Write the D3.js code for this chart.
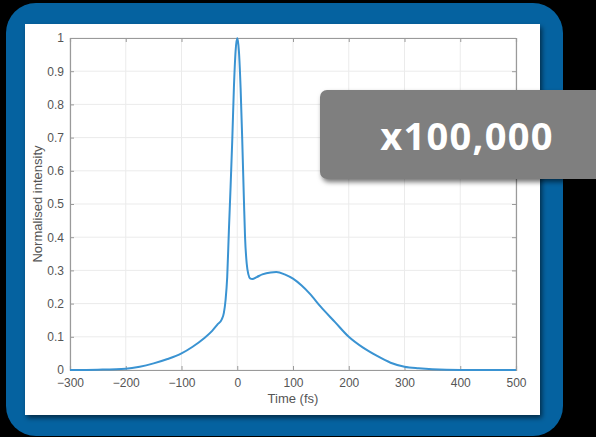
<!DOCTYPE html>
<html><head><meta charset="utf-8">
<script src="https://cdn.jsdelivr.net/npm/d3@7/dist/d3.min.js"></script>
<style>html,body{margin:0;padding:0;background:#000;}svg{display:block;}</style>
</head><body>
<script>
const timeFs = [-300,-250,-200,-175,-150,-125,-100,-80,-60,-45,-35,-28,-24,-21,-18,-15,-12,-9,-6,-3,0,3,6,9,12,14,17,20,23,27,35,45,60,70,85,100,115,130,150,175,200,225,250,275,300,325,350,400,500];
const intensity = [0.000,0.001,0.004,0.010,0.020,0.033,0.050,0.070,0.095,0.118,0.138,0.152,0.172,0.210,0.280,0.420,0.550,0.690,0.850,0.960,1.000,0.960,0.850,0.690,0.510,0.400,0.320,0.288,0.276,0.274,0.280,0.288,0.294,0.295,0.288,0.275,0.255,0.230,0.190,0.145,0.100,0.068,0.043,0.022,0.010,0.005,0.002,0.000,0.000];
const xTicks = [-300,-200,-100,0,100,200,300,400,500];
const yTicks = [0,0.1,0.2,0.3,0.4,0.5,0.6,0.7,0.8,0.9,1];
const xLabel = "Time (fs)";
const yLabel = "Normalised intensity";
const badgeText = "x100,000";

const W = 596, H = 437;
const FONT = "Liberation Sans, Arial, sans-serif";
const svg = d3.select("body").append("svg").attr("width", W).attr("height", H);
const defs = svg.append("defs");
const f1 = defs.append("filter").attr("id","sh").attr("x","-10%").attr("y","-10%").attr("width","130%").attr("height","130%");
f1.append("feDropShadow").attr("dx",2).attr("dy",3).attr("stdDeviation",2.5).attr("flood-color","#000").attr("flood-opacity",0.55);

svg.append("rect").attr("width",W).attr("height",H).attr("fill","#000");
svg.append("rect").attr("x",6).attr("y",3).attr("width",557).attr("height",433).attr("rx",30).attr("fill","#0562a0");
svg.append("rect").attr("x",25).attr("y",24).attr("width",515).attr("height",391).attr("fill","#fff").attr("filter","url(#sh)");

const L = 70, R = 516, T = 38, B = 370;
const x = d3.scaleLinear().domain([-300,500]).range([L,R]);
const y = d3.scaleLinear().domain([0,1]).range([B,T]);
const g = svg.append("g");

// grid
g.selectAll(".gx").data(xTicks).join("line").attr("x1",d=>x(d)).attr("x2",d=>x(d)).attr("y1",T).attr("y2",B).attr("stroke","#ebebeb").attr("stroke-width",1);
g.selectAll(".gy").data(yTicks).join("line").attr("y1",d=>y(d)).attr("y2",d=>y(d)).attr("x1",L).attr("x2",R).attr("stroke","#ebebeb").attr("stroke-width",1);

// axes
const ax = g.append("g").attr("transform",`translate(0,${B})`).call(d3.axisBottom(x).tickValues(xTicks).tickSize(-4).tickPadding(8).tickFormat(d3.format("d")));
const ay = g.append("g").attr("transform",`translate(${L},0)`).call(d3.axisLeft(y).tickValues(yTicks).tickSize(-4).tickPadding(6).tickFormat(d=>d===0?"0":d===1?"1":d3.format(".1f")(d)));
const axT = g.append("g").attr("transform",`translate(0,${T})`).call(d3.axisTop(x).tickValues(xTicks).tickSize(-4).tickFormat(""));
const ayR = g.append("g").attr("transform",`translate(${R},0)`).call(d3.axisRight(y).tickValues(yTicks).tickSize(-4).tickFormat(""));
[ax,ay,axT,ayR].forEach(a=>{
  a.select(".domain").attr("stroke","#9a9a9a").attr("stroke-width",1.2);
  a.selectAll(".tick line").attr("stroke","#9a9a9a");
  a.selectAll("text").attr("fill","#555").attr("font-family",FONT).attr("font-size",12);
});

// line
const line = d3.line().x((d,i)=>x(timeFs[i])).y((d,i)=>y(intensity[i])).curve(d3.curveMonotoneX);
g.append("path").datum(intensity).attr("d",line).attr("fill","none").attr("stroke","#3a93d2").attr("stroke-width",2);

// labels
g.append("text").attr("x",(L+R)/2).attr("y",403).attr("text-anchor","middle").attr("fill","#555").attr("font-family",FONT).attr("font-size",13).text(xLabel);
g.append("text").attr("transform",`translate(42,${(T+B)/2}) rotate(-90)`).attr("text-anchor","middle").attr("fill","#555").attr("font-family",FONT).attr("font-size",13).text(yLabel);

// badge
svg.append("rect").attr("x",320).attr("y",90).attr("width",300).attr("height",89).attr("rx",7).attr("fill","#7f7f7f").attr("filter","url(#sh)");
svg.append("text").attr("x",467).attr("y",150).attr("text-anchor","middle").attr("fill","#fff").attr("font-family","Open Sans, sans-serif").attr("font-weight","bold").attr("font-size",38).attr("letter-spacing",1.3).text(badgeText);
</script>
</body></html>
